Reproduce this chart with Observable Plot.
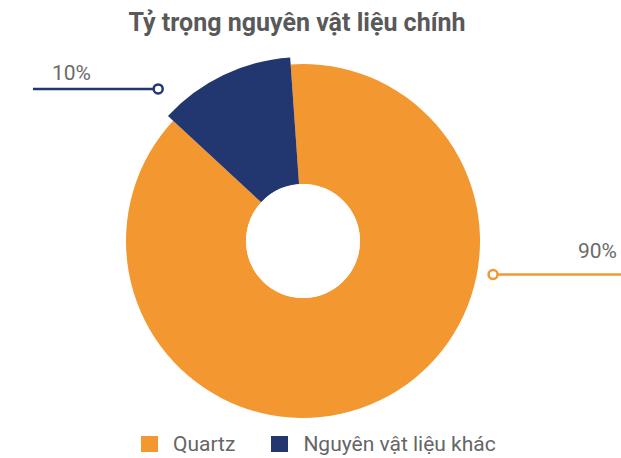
<!DOCTYPE html>
<html><head><meta charset="utf-8">
<script src="https://cdn.jsdelivr.net/npm/d3@7"></script>
<script src="https://cdn.jsdelivr.net/npm/@observablehq/plot@0.6"></script>
<style>
body{margin:0;background:#fff;font-family:Roboto,sans-serif;width:621px;height:458px;overflow:hidden}
#title{height:44px;box-sizing:border-box;padding-top:8px;padding-right:27px;text-align:center;font-weight:bold;font-size:25px;line-height:30px;color:#595959;white-space:nowrap}
#chart svg{display:block}
#legend{display:flex;align-items:center;height:34px;padding-left:141px;font-size:21px;color:#666}
.item{display:flex;align-items:center;margin-right:36px}
.sw{width:17px;height:16px;margin-right:15px}
</style></head>
<body>
<div id="title"></div>
<div id="chart"></div>
<div id="legend"></div>
<script>
const title = "Tỷ trọng nguyên vật liệu chính";
const categories = ["Quartz", "Nguyên vật liệu khác"];
const values = [88, 12];
const valueLabels = ["90%", "10%"];
const colors = ["#F39730", "#22366F"];

const W = 621, H = 383;
const cx = 303, cy = 197, inner = 57;
const outerR = [177, 184];
// label anchors (polar, degrees clockwise from 12 o'clock) and leader styling
const anchors = [
  {angle: 100, r: 193, side: "right", lineEnd: 621, textDy: -17},
  {angle: -43.6, r: 210, side: "left", lineEnd: 33, textDy: -9}
];

document.getElementById("title").textContent = title;

const data = categories.map((c, i) => ({category: c, value: values[i], label: valueLabels[i], color: colors[i], i}));
const start = -4 * Math.PI / 180;
const pie = d3.pie().sort(null).value(d => d.value).startAngle(start).endAngle(start + 2 * Math.PI);
const arcs = pie(data);

function donut(index, scales, vals, dimensions, context) {
  const g = d3.select(context.document.createElementNS("http://www.w3.org/2000/svg", "g"));
  const arc = d3.arc();
  g.selectAll("path").data(arcs).join("path")
    .attr("transform", `translate(${cx},${cy})`)
    .attr("fill", d => d.data.color)
    .attr("d", d => arc({innerRadius: inner, outerRadius: outerR[d.data.i], startAngle: d.startAngle, endAngle: d.endAngle}));
  g.append("circle").attr("cx", cx).attr("cy", cy).attr("r", inner).attr("fill", "#fff");
  arcs.forEach(d => {
    const a = anchors[d.data.i];
    const t = a.angle * Math.PI / 180;
    const ax = cx + a.r * Math.sin(t), ay = cy - a.r * Math.cos(t);
    const dir = a.side === "right" ? 1 : -1;
    g.append("line").attr("x1", ax + dir * 4.5).attr("x2", a.lineEnd).attr("y1", ay).attr("y2", ay)
      .attr("stroke", d.data.color).attr("stroke-width", 2.5);
    g.append("circle").attr("cx", ax).attr("cy", ay).attr("r", 4.5)
      .attr("fill", "#fff").attr("stroke", d.data.color).attr("stroke-width", 2.5);
    g.append("text")
      .attr("x", a.side === "right" ? a.lineEnd - 4 : a.lineEnd + 19)
      .attr("y", ay + a.textDy)
      .attr("text-anchor", a.side === "right" ? "end" : "start")
      .attr("font-family", "Roboto, sans-serif").attr("font-size", 21)
      .attr("fill", "#6b6b6b").text(d.data.label);
  });
  return g.node();
}

const chart = Plot.plot({
  width: W, height: H, margin: 0,
  x: {domain: [0, W], axis: null},
  y: {domain: [0, H], axis: null},
  marks: [donut]
});
document.getElementById("chart").append(chart);

const legend = d3.select("#legend");
data.forEach(d => {
  const it = legend.append("div").attr("class", "item");
  it.append("div").attr("class", "sw").style("background", d.color);
  it.append("span").text(d.category);
});
</script>
</body></html>
